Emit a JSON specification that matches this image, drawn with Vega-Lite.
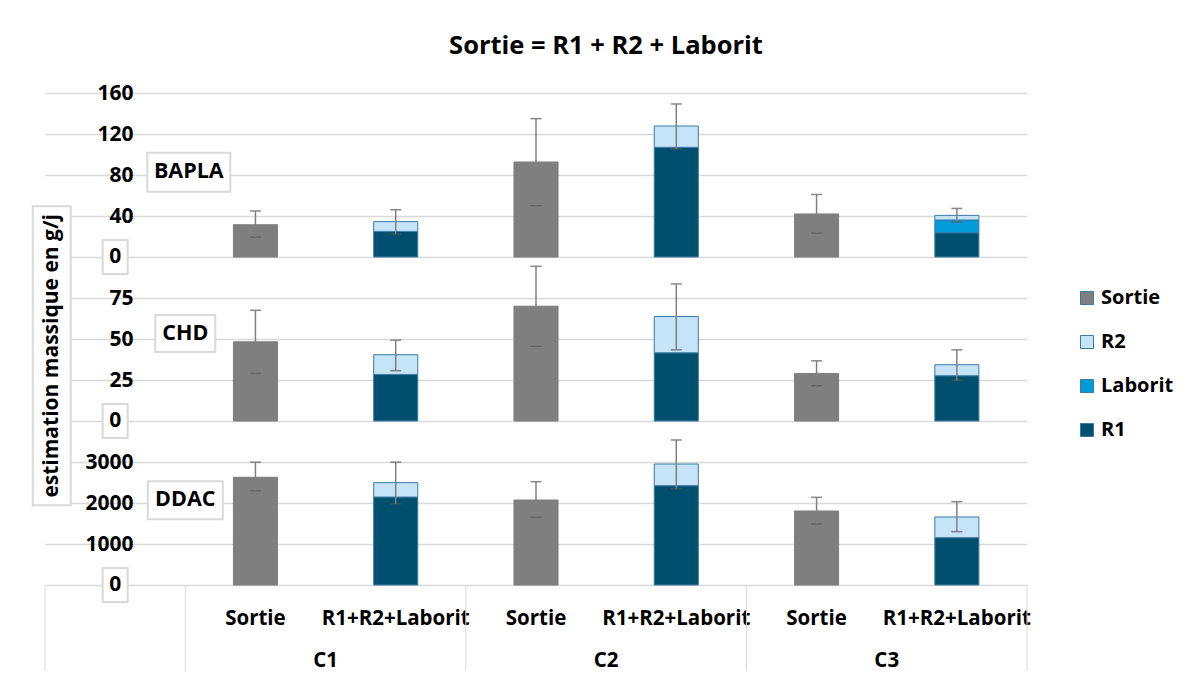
{
  "$schema": "https://vega.github.io/schema/vega-lite/v6.json",
  "padding": {"left": 28, "top": 33, "right": 5, "bottom": 2},
  "title": {"text": "Sortie = R1 + R2 + Laborit", "fontSize": 25.5, "fontWeight": "bold", "font": "Open Sans", "color": "#000000", "anchor": "middle", "frame": "group", "offset": 23, "dx": 70},
  "datasets": {
    "barres": [
      {"panneau": "BAPLA", "cat": "C1|S", "comp": "Sortie", "valeur": 31.5},
      {"panneau": "BAPLA", "cat": "C1|R", "comp": "R1", "valeur": 25},
      {"panneau": "BAPLA", "cat": "C1|R", "comp": "R2", "valeur": 9.5},
      {"panneau": "BAPLA", "cat": "C2|S", "comp": "Sortie", "valeur": 92.7},
      {"panneau": "BAPLA", "cat": "C2|R", "comp": "R1", "valeur": 107},
      {"panneau": "BAPLA", "cat": "C2|R", "comp": "R2", "valeur": 20.8},
      {"panneau": "BAPLA", "cat": "C3|S", "comp": "Sortie", "valeur": 42},
      {"panneau": "BAPLA", "cat": "C3|R", "comp": "R1", "valeur": 23.7},
      {"panneau": "BAPLA", "cat": "C3|R", "comp": "Laborit", "valeur": 12.4},
      {"panneau": "BAPLA", "cat": "C3|R", "comp": "R2", "valeur": 4.5},
      {"panneau": "CHD", "cat": "C1|S", "comp": "Sortie", "valeur": 48.3},
      {"panneau": "CHD", "cat": "C1|R", "comp": "R1", "valeur": 28.4},
      {"panneau": "CHD", "cat": "C1|R", "comp": "R2", "valeur": 12},
      {"panneau": "CHD", "cat": "C2|S", "comp": "Sortie", "valeur": 70},
      {"panneau": "CHD", "cat": "C2|R", "comp": "R1", "valeur": 41.6},
      {"panneau": "CHD", "cat": "C2|R", "comp": "R2", "valeur": 22.1},
      {"panneau": "CHD", "cat": "C3|S", "comp": "Sortie", "valeur": 29},
      {"panneau": "CHD", "cat": "C3|R", "comp": "R1", "valeur": 27.6},
      {"panneau": "CHD", "cat": "C3|R", "comp": "R2", "valeur": 6.7},
      {"panneau": "DDAC", "cat": "C1|S", "comp": "Sortie", "valeur": 2627},
      {"panneau": "DDAC", "cat": "C1|R", "comp": "R1", "valeur": 2146},
      {"panneau": "DDAC", "cat": "C1|R", "comp": "R2", "valeur": 350},
      {"panneau": "DDAC", "cat": "C2|S", "comp": "Sortie", "valeur": 2073},
      {"panneau": "DDAC", "cat": "C2|R", "comp": "R1", "valeur": 2423},
      {"panneau": "DDAC", "cat": "C2|R", "comp": "R2", "valeur": 528},
      {"panneau": "DDAC", "cat": "C3|S", "comp": "Sortie", "valeur": 1805},
      {"panneau": "DDAC", "cat": "C3|R", "comp": "R1", "valeur": 1155},
      {"panneau": "DDAC", "cat": "C3|R", "comp": "R2", "valeur": 504}
    ],
    "erreurs": [
      {"panneau": "BAPLA", "cat": "C1|S", "bas": 19.5, "haut": 44.9},
      {"panneau": "BAPLA", "cat": "C1|R", "bas": 22.4, "haut": 46.1},
      {"panneau": "BAPLA", "cat": "C2|S", "bas": 50, "haut": 135},
      {"panneau": "BAPLA", "cat": "C2|R", "bas": 105.4, "haut": 149.3},
      {"panneau": "BAPLA", "cat": "C3|S", "bas": 23.4, "haut": 61},
      {"panneau": "BAPLA", "cat": "C3|R", "bas": 34.1, "haut": 47.4},
      {"panneau": "CHD", "cat": "C1|S", "bas": 29, "haut": 67.5},
      {"panneau": "CHD", "cat": "C1|R", "bas": 30.7, "haut": 49.3},
      {"panneau": "CHD", "cat": "C2|S", "bas": 45.6, "haut": 94.3},
      {"panneau": "CHD", "cat": "C2|R", "bas": 43.4, "haut": 83.6},
      {"panneau": "CHD", "cat": "C3|S", "bas": 21.5, "haut": 36.7},
      {"panneau": "CHD", "cat": "C3|R", "bas": 24.8, "haut": 43.4},
      {"panneau": "DDAC", "cat": "C1|S", "bas": 2301, "haut": 2995},
      {"panneau": "DDAC", "cat": "C1|R", "bas": 1976, "haut": 2995},
      {"panneau": "DDAC", "cat": "C2|S", "bas": 1651, "haut": 2520},
      {"panneau": "DDAC", "cat": "C2|R", "bas": 2350, "haut": 3537},
      {"panneau": "DDAC", "cat": "C3|S", "bas": 1488, "haut": 2138},
      {"panneau": "DDAC", "cat": "C3|R", "bas": 1301, "haut": 2033}
    ],
    "panneaux": [
      {"panneau": "BAPLA"},
      {"panneau": "CHD"},
      {"panneau": "DDAC"}
    ],
    "categories": [
      {"cat": "C1|S", "groupe": "C1", "sous": "Sortie"},
      {"cat": "C1|R", "groupe": "C1", "sous": "R1+R2+Laborit"},
      {"cat": "C2|S", "groupe": "C2", "sous": "Sortie"},
      {"cat": "C2|R", "groupe": "C2", "sous": "R1+R2+Laborit"},
      {"cat": "C3|S", "groupe": "C3", "sous": "Sortie"},
      {"cat": "C3|R", "groupe": "C3", "sous": "R1+R2+Laborit"}
    ]
  },
  "vconcat": [
    {
      "width": 982, "height": 164,
      "layer": [
        {
          "data": {"name": "barres"},
          "transform": [{"filter": "datum.panneau === 'BAPLA'"}],
          "mark": {"type": "bar", "width": {"band": 0.314}, "strokeWidth": 1},
          "encoding": {
            "x": {"field": "cat", "type": "nominal", "scale": {"domain": ["vide", "C1|S", "C1|R", "C2|S", "C2|R", "C3|S", "C3|R"], "paddingInner": 0, "paddingOuter": 0}, "axis": null},
            "y": {"field": "valeur", "type": "quantitative", "stack": "zero", "scale": {"domain": [0, 160], "nice": false}, "axis": {"values": [0, 40, 80, 120, 160], "title": null}},
            "color": {"field": "comp", "type": "nominal", "scale": {"domain": ["Sortie", "R2", "Laborit", "R1"], "range": ["#7f7f7f", "#c6e4f8", "#009bd8", "#004f6e"]}},
            "order": {"field": "valeur", "sort": "descending"},
            "stroke": {"condition": {"test": "datum.comp === 'Sortie'", "value": "#7f7f7f"}, "value": "#3a7aa3"}
          }
        },
        {
          "data": {"name": "erreurs"},
          "transform": [{"filter": "datum.panneau === 'BAPLA'"}],
          "mark": {"type": "errorbar", "ticks": {"size": 11, "color": "#595959", "thickness": 1.5}, "rule": {"color": "#808080", "strokeWidth": 1.5}},
          "encoding": {
            "x": {"field": "cat", "type": "nominal"},
            "y": {"field": "bas", "type": "quantitative", "title": null},
            "y2": {"field": "haut"}
          }
        },
        {
          "data": {"name": "panneaux"},
          "transform": [{"filter": "datum.panneau === 'BAPLA'"}],
          "mark": {"type": "point", "shape": "M-0.83,-0.39H0.83V0.39H-0.83Z", "size": 10000, "filled": true, "fill": "#ffffff", "stroke": "#d9d9d9", "strokeWidth": 2, "opacity": 1},
          "encoding": {"x": {"datum": "vide", "type": "nominal", "bandPosition": 1.025}, "y": {"datum": 82.6, "type": "quantitative"}}
        },
        {
          "data": {"name": "panneaux"},
          "transform": [{"filter": "datum.panneau === 'BAPLA'"}],
          "mark": {"type": "text", "font": "Open Sans", "fontSize": 21.5, "fontWeight": "bold", "color": "#000000", "align": "center", "baseline": "middle"},
          "encoding": {"x": {"datum": "vide", "type": "nominal", "bandPosition": 1.025}, "y": {"datum": 82.6, "type": "quantitative"}, "text": {"field": "panneau"}}
        },
        {
          "data": {"name": "panneaux"},
          "transform": [{"filter": "datum.panneau === 'BAPLA'"}],
          "mark": {"type": "point", "shape": "M-0.25,-0.34H0.25V0.34H-0.25Z", "size": 10000, "filled": true, "fill": "#ffffff", "stroke": "#d9d9d9", "strokeWidth": 2, "opacity": 1},
          "encoding": {"x": {"datum": "vide", "type": "nominal", "bandPosition": 0.5}, "y": {"datum": 0, "type": "quantitative"}}
        },
        {
          "data": {"name": "panneaux"},
          "transform": [{"filter": "datum.panneau === 'BAPLA'"}],
          "mark": {"type": "text", "text": "0", "font": "Open Sans", "fontSize": 21, "fontWeight": "bold", "color": "#000000", "align": "center", "baseline": "middle"},
          "encoding": {"x": {"datum": "vide", "type": "nominal", "bandPosition": 0.5}, "y": {"datum": 0, "type": "quantitative"}}
        }
      ]
    },
    {
      "width": 982, "height": 164,
      "layer": [
        {
          "data": {"name": "barres"},
          "transform": [{"filter": "datum.panneau === 'CHD'"}],
          "mark": {"type": "bar", "width": {"band": 0.314}, "strokeWidth": 1},
          "encoding": {
            "x": {"field": "cat", "type": "nominal", "scale": {"domain": ["vide", "C1|S", "C1|R", "C2|S", "C2|R", "C3|S", "C3|R"], "paddingInner": 0, "paddingOuter": 0}, "axis": null},
            "y": {"field": "valeur", "type": "quantitative", "stack": "zero", "scale": {"domain": [0, 100], "nice": false}, "axis": {"values": [0, 25, 50, 75], "title": null}},
            "color": {"field": "comp", "type": "nominal", "scale": {"domain": ["Sortie", "R2", "Laborit", "R1"], "range": ["#7f7f7f", "#c6e4f8", "#009bd8", "#004f6e"]}},
            "order": {"field": "valeur", "sort": "descending"},
            "stroke": {"condition": {"test": "datum.comp === 'Sortie'", "value": "#7f7f7f"}, "value": "#3a7aa3"}
          }
        },
        {
          "data": {"name": "erreurs"},
          "transform": [{"filter": "datum.panneau === 'CHD'"}],
          "mark": {"type": "errorbar", "ticks": {"size": 11, "color": "#595959", "thickness": 1.5}, "rule": {"color": "#808080", "strokeWidth": 1.5}},
          "encoding": {
            "x": {"field": "cat", "type": "nominal"},
            "y": {"field": "bas", "type": "quantitative", "title": null},
            "y2": {"field": "haut"}
          }
        },
        {
          "data": {"name": "panneaux"},
          "transform": [{"filter": "datum.panneau === 'CHD'"}],
          "mark": {"type": "point", "shape": "M-0.6,-0.37H0.6V0.37H-0.6Z", "size": 10000, "filled": true, "fill": "#ffffff", "stroke": "#d9d9d9", "strokeWidth": 2, "opacity": 1},
          "encoding": {"x": {"datum": "vide", "type": "nominal", "bandPosition": 1.0}, "y": {"datum": 53.3, "type": "quantitative"}}
        },
        {
          "data": {"name": "panneaux"},
          "transform": [{"filter": "datum.panneau === 'CHD'"}],
          "mark": {"type": "text", "font": "Open Sans", "fontSize": 21.5, "fontWeight": "bold", "color": "#000000", "align": "center", "baseline": "middle"},
          "encoding": {"x": {"datum": "vide", "type": "nominal", "bandPosition": 1.0}, "y": {"datum": 53.3, "type": "quantitative"}, "text": {"field": "panneau"}}
        },
        {
          "data": {"name": "panneaux"},
          "transform": [{"filter": "datum.panneau === 'CHD'"}],
          "mark": {"type": "point", "shape": "M-0.25,-0.34H0.25V0.34H-0.25Z", "size": 10000, "filled": true, "fill": "#ffffff", "stroke": "#d9d9d9", "strokeWidth": 2, "opacity": 1},
          "encoding": {"x": {"datum": "vide", "type": "nominal", "bandPosition": 0.5}, "y": {"datum": 0, "type": "quantitative"}}
        },
        {
          "data": {"name": "panneaux"},
          "transform": [{"filter": "datum.panneau === 'CHD'"}],
          "mark": {"type": "text", "text": "0", "font": "Open Sans", "fontSize": 21, "fontWeight": "bold", "color": "#000000", "align": "center", "baseline": "middle"},
          "encoding": {"x": {"datum": "vide", "type": "nominal", "bandPosition": 0.5}, "y": {"datum": 0, "type": "quantitative"}}
        }
      ]
    },
    {
      "width": 982, "height": 164,
      "layer": [
        {
          "data": {"name": "barres"},
          "transform": [{"filter": "datum.panneau === 'DDAC'"}],
          "mark": {"type": "bar", "width": {"band": 0.314}, "strokeWidth": 1},
          "encoding": {
            "x": {"field": "cat", "type": "nominal", "scale": {"domain": ["vide", "C1|S", "C1|R", "C2|S", "C2|R", "C3|S", "C3|R"], "paddingInner": 0, "paddingOuter": 0}, "axis": null},
            "y": {"field": "valeur", "type": "quantitative", "stack": "zero", "scale": {"domain": [0, 4000], "nice": false}, "axis": {"values": [0, 1000, 2000, 3000], "title": null}},
            "color": {"field": "comp", "type": "nominal", "scale": {"domain": ["Sortie", "R2", "Laborit", "R1"], "range": ["#7f7f7f", "#c6e4f8", "#009bd8", "#004f6e"]}},
            "order": {"field": "valeur", "sort": "descending"},
            "stroke": {"condition": {"test": "datum.comp === 'Sortie'", "value": "#7f7f7f"}, "value": "#3a7aa3"}
          }
        },
        {
          "data": {"name": "erreurs"},
          "transform": [{"filter": "datum.panneau === 'DDAC'"}],
          "mark": {"type": "errorbar", "ticks": {"size": 11, "color": "#595959", "thickness": 1.5}, "rule": {"color": "#808080", "strokeWidth": 1.5}},
          "encoding": {
            "x": {"field": "cat", "type": "nominal"},
            "y": {"field": "bas", "type": "quantitative", "title": null},
            "y2": {"field": "haut"}
          }
        },
        {
          "data": {"name": "panneaux"},
          "transform": [{"filter": "datum.panneau === 'DDAC'"}],
          "mark": {"type": "point", "shape": "M-0.75,-0.38H0.75V0.38H-0.75Z", "size": 10000, "filled": true, "fill": "#ffffff", "stroke": "#d9d9d9", "strokeWidth": 2, "opacity": 1},
          "encoding": {"x": {"datum": "vide", "type": "nominal", "bandPosition": 1.0}, "y": {"datum": 2066, "type": "quantitative"}}
        },
        {
          "data": {"name": "panneaux"},
          "transform": [{"filter": "datum.panneau === 'DDAC'"}],
          "mark": {"type": "text", "font": "Open Sans", "fontSize": 21.5, "fontWeight": "bold", "color": "#000000", "align": "center", "baseline": "middle"},
          "encoding": {"x": {"datum": "vide", "type": "nominal", "bandPosition": 1.0}, "y": {"datum": 2066, "type": "quantitative"}, "text": {"field": "panneau"}}
        },
        {
          "data": {"name": "panneaux"},
          "transform": [{"filter": "datum.panneau === 'DDAC'"}],
          "mark": {"type": "point", "shape": "M-0.25,-0.34H0.25V0.34H-0.25Z", "size": 10000, "filled": true, "fill": "#ffffff", "stroke": "#d9d9d9", "strokeWidth": 2, "opacity": 1},
          "encoding": {"x": {"datum": "vide", "type": "nominal", "bandPosition": 0.5}, "y": {"datum": 0, "type": "quantitative"}}
        },
        {
          "data": {"name": "panneaux"},
          "transform": [{"filter": "datum.panneau === 'DDAC'"}],
          "mark": {"type": "text", "text": "0", "font": "Open Sans", "fontSize": 21, "fontWeight": "bold", "color": "#000000", "align": "center", "baseline": "middle"},
          "encoding": {"x": {"datum": "vide", "type": "nominal", "bandPosition": 0.5}, "y": {"datum": 0, "type": "quantitative"}}
        },
        {
          "data": {"name": "panneaux"},
          "transform": [{"filter": "datum.panneau === 'DDAC'"}],
          "mark": {"type": "point", "shape": "M-0.38,-2.99H0.38V2.99H-0.38Z", "size": 10000, "filled": true, "fill": "#ffffff", "stroke": "#d9d9d9", "strokeWidth": 2, "opacity": 1},
          "encoding": {"x": {"datum": "vide", "type": "nominal", "bandPosition": 0.048}, "y": {"datum": 5590, "type": "quantitative"}}
        },
        {
          "data": {"name": "panneaux"},
          "transform": [{"filter": "datum.panneau === 'DDAC'"}],
          "mark": {"type": "text", "text": "estimation massique en g/j", "angle": 270, "font": "Open Sans", "fontSize": 21, "fontWeight": "bold", "color": "#000000", "align": "center", "baseline": "middle"},
          "encoding": {"x": {"datum": "vide", "type": "nominal", "bandPosition": 0.048}, "y": {"datum": 5590, "type": "quantitative"}}
        }
      ]
    },
    {
      "width": 982, "height": 86,
      "data": {"name": "categories"},
      "layer": [
        {
          "mark": {"type": "text", "font": "Open Sans", "fontSize": 20.5, "fontWeight": "bold", "color": "#000000", "align": "center", "baseline": "middle"},
          "encoding": {
            "x": {"field": "cat", "type": "nominal", "scale": {"domain": ["vide", "C1|S", "C1|R", "C2|S", "C2|R", "C3|S", "C3|R"], "paddingInner": 0, "paddingOuter": 0}, "axis": null},
            "y": {"datum": "niveau1", "type": "nominal", "scale": {"type": "point", "domain": ["niveau1", "niveau2"], "padding": 0.524, "align": 0.78}, "axis": null},
            "text": {"field": "sous"}
          }
        },
        {
          "transform": [{"filter": "datum.sous === 'Sortie'"}],
          "mark": {"type": "text", "font": "Open Sans", "fontSize": 20.5, "fontWeight": "bold", "color": "#000000", "align": "center", "baseline": "middle"},
          "encoding": {
            "x": {"field": "cat", "type": "nominal", "bandPosition": 1},
            "y": {"datum": "niveau2", "type": "nominal"},
            "text": {"field": "groupe"}
          }
        },
        {
          "transform": [{"filter": "datum.sous === 'Sortie'"}],
          "mark": {"type": "rule", "color": "#d9d9d9", "strokeWidth": 1},
          "encoding": {"x": {"field": "cat", "type": "nominal", "bandPosition": 0}}
        },
        {
          "transform": [{"filter": "datum.cat === 'C1|S'"}],
          "mark": {"type": "rule", "color": "#d9d9d9", "strokeWidth": 1},
          "encoding": {"x": {"datum": "vide", "type": "nominal", "bandPosition": 0}}
        },
        {
          "transform": [{"filter": "datum.cat === 'C1|S'"}],
          "mark": {"type": "rule", "color": "#d9d9d9", "strokeWidth": 1},
          "encoding": {"x": {"datum": "C3|R", "type": "nominal", "bandPosition": 1}}
        }
      ]
    }
  ],
  "spacing": 0,
  "bounds": "flush",
  "resolve": {"scale": {"x": "independent", "y": "independent", "color": "shared"}, "legend": {"color": "shared"}},
  "config": {
    "font": "Open Sans",
    "view": {"stroke": null},
    "axisY": {"domain": false, "ticks": false, "grid": true, "gridColor": "#d9d9d9", "gridWidth": 1.5, "format": "d", "labelFont": "Open Sans", "labelFontSize": 21, "labelFontWeight": "bold", "labelColor": "#000000", "labelPadding": -88, "labelExpr": "datum.value === 0 ? '' : datum.label"},
    "legend": {"orient": "none", "legendX": 1032, "legendY": 195, "title": null, "symbolType": "square", "symbolSize": 169, "labelFont": "Open Sans", "labelFontSize": 20, "labelFontWeight": "bold", "labelColor": "#000000", "rowPadding": 24, "labelOffset": 4, "symbolStrokeColor": "#3a7aa3", "symbolStrokeWidth": 1}
  }
}
